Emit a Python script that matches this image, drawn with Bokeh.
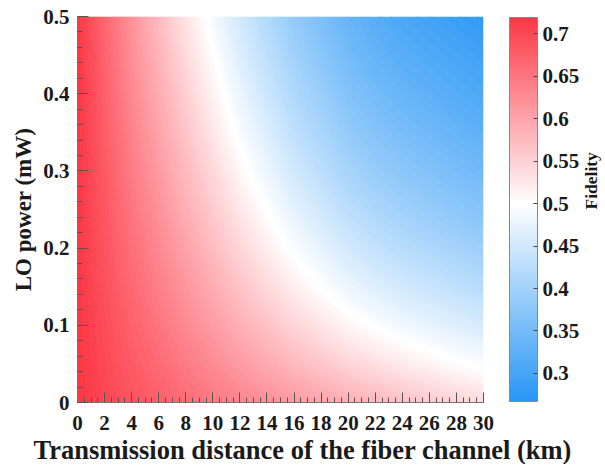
import math
import numpy as np
from bokeh.plotting import figure
from bokeh.models import (LinearColorMapper, ColorBar, FixedTicker, Title,
                          LinearAxis, CustomJSTickFormatter)
from bokeh.embed import file_html
from bokeh.resources import INLINE

# ---------------- data ----------------
distance_km = [0, 2, 4, 6, 8, 10, 12, 14, 16, 18, 20, 22, 24, 26, 28, 30]
lo_power_mw = [0.0, 0.05, 0.10, 0.15, 0.20, 0.25, 0.30, 0.35, 0.40, 0.45, 0.50]

# fidelity, one list per LO power row (columns follow distance_km)
fid_p000 = [0.720, 0.704, 0.689, 0.675, 0.661, 0.648, 0.635, 0.623, 0.612, 0.600, 0.589, 0.579, 0.569, 0.559, 0.549, 0.540]
fid_p005 = [0.720, 0.701, 0.681, 0.664, 0.645, 0.628, 0.610, 0.593, 0.577, 0.562, 0.547, 0.535, 0.523, 0.513, 0.503, 0.494]
fid_p010 = [0.720, 0.697, 0.674, 0.652, 0.630, 0.609, 0.587, 0.567, 0.546, 0.529, 0.511, 0.497, 0.484, 0.474, 0.464, 0.454]
fid_p015 = [0.720, 0.693, 0.666, 0.641, 0.616, 0.591, 0.565, 0.542, 0.519, 0.499, 0.479, 0.464, 0.451, 0.441, 0.431, 0.421]
fid_p020 = [0.720, 0.690, 0.659, 0.631, 0.602, 0.574, 0.545, 0.519, 0.494, 0.473, 0.451, 0.435, 0.422, 0.412, 0.402, 0.392]
fid_p025 = [0.720, 0.686, 0.652, 0.621, 0.588, 0.558, 0.527, 0.499, 0.471, 0.449, 0.426, 0.410, 0.397, 0.386, 0.376, 0.367]
fid_p030 = [0.720, 0.683, 0.645, 0.611, 0.576, 0.543, 0.509, 0.480, 0.450, 0.427, 0.404, 0.387, 0.374, 0.364, 0.354, 0.345]
fid_p035 = [0.720, 0.679, 0.638, 0.601, 0.564, 0.528, 0.493, 0.462, 0.431, 0.408, 0.384, 0.367, 0.354, 0.344, 0.334, 0.325]
fid_p040 = [0.720, 0.676, 0.632, 0.592, 0.552, 0.515, 0.478, 0.445, 0.414, 0.390, 0.365, 0.349, 0.336, 0.326, 0.316, 0.308]
fid_p045 = [0.720, 0.672, 0.625, 0.583, 0.541, 0.502, 0.463, 0.430, 0.398, 0.373, 0.349, 0.332, 0.319, 0.310, 0.301, 0.292]
fid_p050 = [0.720, 0.669, 0.619, 0.574, 0.530, 0.489, 0.450, 0.416, 0.383, 0.358, 0.334, 0.317, 0.305, 0.295, 0.286, 0.278]

fidelity_rows = [fid_p000, fid_p005, fid_p010, fid_p015, fid_p020, fid_p025,
                 fid_p030, fid_p035, fid_p040, fid_p045, fid_p050]

x_tick_values = [0, 2, 4, 6, 8, 10, 12, 14, 16, 18, 20, 22, 24, 26, 28, 30]
y_tick_values = [0, 0.1, 0.2, 0.3, 0.4, 0.5]
y_tick_labels = ["0", "0.1", "0.2", "0.3", "0.4", "0.5"]
cbar_tick_values = [0.3, 0.35, 0.4, 0.45, 0.5, 0.55, 0.6, 0.65, 0.7]
cbar_low, cbar_high = 0.267, 0.719

# ---------------- styling ----------------
FONT = "Liberation Serif"
TXT = "#1a1a1a"

BLUE = np.array([40, 150, 245])
WHITE = np.array([255, 255, 255])
RED = np.array([252, 56, 70])


def colour(v):
    v = min(max(v, cbar_low), cbar_high)
    if v <= 0.5:
        t = (v - cbar_low) / (0.5 - cbar_low)
        c = BLUE + (WHITE - BLUE) * t
    else:
        t = (v - 0.5) / (cbar_high - 0.5)
        c = WHITE + (RED - WHITE) * t
    return "#%02x%02x%02x" % tuple(int(round(k)) for k in c)


palette = [colour(v) for v in np.linspace(cbar_low, cbar_high, 256)]
mapper = LinearColorMapper(palette=palette, low=cbar_low, high=cbar_high)

p = figure(frame_width=406, frame_height=386, x_range=(0, 30), y_range=(0, 0.5),
           output_backend="svg", toolbar_location=None,
           min_border_left=77, min_border_right=10,
           min_border_top=16, min_border_bottom=10)
p.grid.visible = False
p.outline_line_color = None
p.background_fill_color = "white"

# smooth filled map drawn by bokeh's contour renderer from the grid
Z = np.array(fidelity_rows)
levels = list(np.linspace(0.265, 0.725, 93))
fills = [colour((a + b) / 2) for a, b in zip(levels[:-1], levels[1:])]
lines = [colour(v) for v in levels]
p.contour(x=distance_km, y=lo_power_mw, z=Z, levels=levels,
          fill_color=fills, line_color=lines, line_width=1.2)

# x axis
xa = p.xaxis[0]
xa.ticker = FixedTicker(ticks=x_tick_values,
                        minor_ticks=[i * 0.5 for i in range(61)])
xa.major_tick_in = 10
xa.major_tick_out = 0
xa.minor_tick_in = 5
xa.minor_tick_out = 0
xa.major_tick_line_color = "#555555"
xa.minor_tick_line_color = "#555555"
xa.axis_line_color = "#777777"
xa.major_label_standoff = 13
xa.major_label_text_font = FONT
xa.major_label_text_font_style = "bold"
xa.major_label_text_font_size = "21px"
xa.major_label_text_color = TXT

# y axis
ya = p.yaxis[0]
ya.ticker = FixedTicker(ticks=y_tick_values,
                        minor_ticks=[i * 0.02 for i in range(26)])
ya.major_label_overrides = {v: s for v, s in zip(y_tick_values, y_tick_labels)}
ya.major_tick_in = 11
ya.major_tick_out = 0
ya.minor_tick_in = 5
ya.minor_tick_out = 0
ya.major_tick_line_color = "#555555"
ya.minor_tick_line_color = "#555555"
ya.axis_line_color = "#777777"
ya.major_label_standoff = 8
ya.major_label_text_font = FONT
ya.major_label_text_font_style = "bold"
ya.major_label_text_font_size = "21px"
ya.major_label_text_color = TXT
ya.axis_label = "LO power (mW)"
ya.axis_label_text_font = FONT
ya.axis_label_text_font_style = "bold"
ya.axis_label_text_font_size = "23px"
ya.axis_label_text_color = TXT
ya.axis_label_standoff = 4

# x axis title (shifted right like the original)
p.add_layout(Title(text="Transmission distance of the fiber channel (km)",
                   align="left", offset=-44, standoff=0,
                   text_font=FONT, text_font_style="bold",
                   text_font_size="26.5px", text_color=TXT), "below")

# colour bar
cb = ColorBar(color_mapper=mapper, width=28, height=384,
              location=(26, 1), margin=0, padding=0,
              ticker=FixedTicker(ticks=cbar_tick_values),
              formatter=CustomJSTickFormatter(code="return String(Math.round(tick*100)/100)"),
              major_tick_in=4, major_tick_out=0,
              major_tick_line_color="#444444",
              bar_line_color="#888888",
              label_standoff=5,
              major_label_text_font=FONT,
              major_label_text_font_style="bold",
              major_label_text_font_size="21px",
              major_label_text_color=TXT,
              background_fill_color=None)
p.add_layout(cb, "right")

# "Fidelity" as the label of a tick-less axis beyond the colour bar
fid_axis = LinearAxis(ticker=FixedTicker(ticks=[]),
                      axis_line_color=None,
                      major_tick_line_color=None,
                      minor_tick_line_color=None,
                      axis_label="Fidelity",
                      axis_label_orientation=math.pi / 2,
                      axis_label_standoff=8,
                      axis_label_text_font=FONT,
                      axis_label_text_font_style="bold",
                      axis_label_text_font_size="17.5px",
                      axis_label_text_color=TXT)
p.add_layout(fid_axis, "right")

open("out.html", "w").write(file_html(p, INLINE))
